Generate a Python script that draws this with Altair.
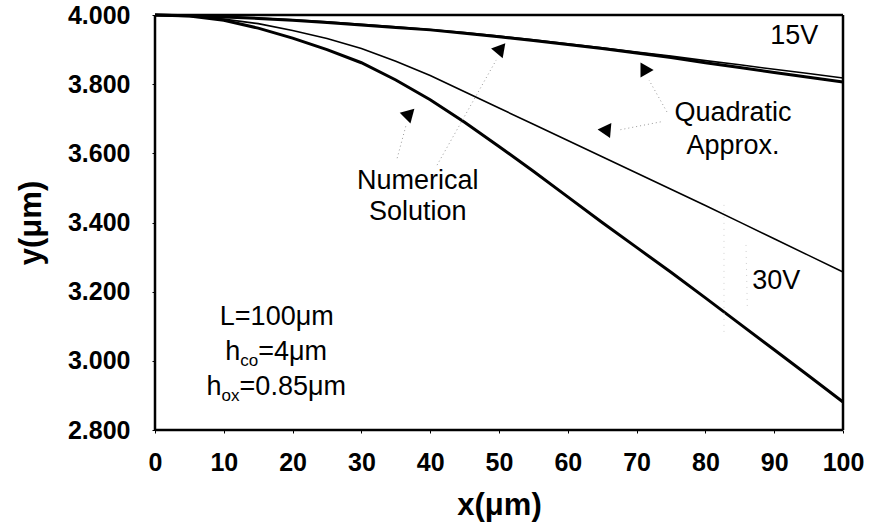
import altair as alt
import pandas as pd

# ---------------- data ----------------
x_um = list(range(0, 101, 5))

y15_numerical = [4.000, 3.998, 3.994, 3.990, 3.985, 3.978, 3.971, 3.964, 3.957, 3.947, 3.937,
                 3.926, 3.915, 3.903, 3.890, 3.877, 3.862, 3.848, 3.834, 3.820, 3.806]
y15_quadratic = [4.000, 3.998, 3.995, 3.991, 3.986, 3.980, 3.973, 3.966, 3.958, 3.949, 3.939,
                 3.928, 3.917, 3.905, 3.893, 3.881, 3.868, 3.856, 3.843, 3.831, 3.818]
y30_numerical = [4.000, 3.997, 3.985, 3.962, 3.933, 3.900, 3.862, 3.812, 3.755, 3.690, 3.620,
                 3.548, 3.474, 3.400, 3.328, 3.256, 3.182, 3.107, 3.032, 2.957, 2.881]
y30_quadratic = [4.000, 3.997, 3.988, 3.975, 3.955, 3.932, 3.903, 3.866, 3.825, 3.778, 3.731,
                 3.684, 3.637, 3.590, 3.543, 3.496, 3.449, 3.401, 3.353, 3.305, 3.257]

x_ticks = list(range(0, 101, 10))
y_ticks = [2.8, 3.0, 3.2, 3.4, 3.6, 3.8, 4.0]

label_text = ["15V", "Quadratic", "Approx.", "Numerical", "Solution", "30V", "L=100\u03bcm"]
label_x = [92.9, 84.0, 84.0, 38.2, 38.2, 90.3, 17.7]
label_y = [3.915, 3.693, 3.599, 3.497, 3.408, 3.207, 3.104]

tri_x = [36.8, 50.1, 71.2, 65.6]
tri_y = [3.711, 3.899, 3.841, 3.667]
tri_angle = [285, 280, 90, 275]

lead_x = [35.2, 41.0, 74.4, 73.5]
lead_y = [3.586, 3.566, 3.720, 3.691]
lead_x2 = [36.5, 49.6, 71.8, 67.3]
lead_y2 = [3.682, 3.870, 3.812, 3.667]

faint_x = [82.7, 85.9]
faint_y = [3.451, 3.335]
faint_x2 = [82.7, 86.1]
faint_y2 = [3.075, 3.147]

box_x = [0, 100]
box_y = [2.8, 4.0]

# ---------------- tables ----------------
rows = []
for v, ys in (("15V", y15_numerical), ("30V", y30_numerical)):
    for x, y in zip(x_um, ys):
        rows.append({"x": x, "y": y, "voltage": v})
num_df = pd.DataFrame(rows)
rows = []
for v, ys in (("15V", y15_quadratic), ("30V", y30_quadratic)):
    for x, y in zip(x_um, ys):
        rows.append({"x": x, "y": y, "voltage": v})
quad_df = pd.DataFrame(rows)

lab_df = pd.DataFrame({"x": label_x, "y": label_y, "t": label_text})
tri_df = pd.DataFrame({"x": tri_x, "y": tri_y, "a": tri_angle})
lead_df = pd.DataFrame({"x": lead_x, "y": lead_y, "x2": lead_x2, "y2": lead_y2})
faint_df = pd.DataFrame({"x": faint_x, "y": faint_y, "x2": faint_x2, "y2": faint_y2})
frame_df = pd.DataFrame({
    "x": [box_x[0], box_x[0], box_x[0], box_x[1]],
    "x2": [box_x[1], box_x[1], box_x[0], box_x[1]],
    "y": [box_y[1], box_y[0], box_y[0], box_y[0]],
    "y2": [box_y[1], box_y[0], box_y[1], box_y[1]],
})

FONT = "Liberation Sans"
W, H = 688, 415

xscale = alt.Scale(domain=[0, 100], nice=False, zero=False)
yscale = alt.Scale(domain=[2.8, 4.0], nice=False, zero=False)

xaxis = alt.Axis(values=x_ticks, title="x(\u03bcm)", grid=False, domain=False,
                 labelFont=FONT, labelFontSize=25, labelFontWeight="bold", labelColor="black",
                 labelFlush=False, labelPadding=17, tickSize=3, tickColor="black",
                 titleFont=FONT, titleFontSize=31, titleFontWeight="bold", titleColor="black",
                 titleY=84, titleBaseline="alphabetic")
yaxis = alt.Axis(values=y_ticks, format=".3f", title="y(\u03bcm)", grid=False, domain=False,
                 labelFont=FONT, labelFontSize=25, labelFontWeight="bold", labelColor="black",
                 labelFlush=False, labelPadding=22, tickSize=3, tickColor="black",
                 titleFont=FONT, titleFontSize=31, titleFontWeight="bold", titleColor="black",
                 titleX=-108, titleY=207.5, titleAngle=-90, titleAlign="center",
                 titleBaseline="bottom")

X = alt.X("x:Q", scale=xscale, axis=xaxis)
Y = alt.Y("y:Q", scale=yscale, axis=yaxis)

thick = alt.Chart(num_df).mark_line(color="black", strokeWidth=3).encode(
    x=X, y=Y, detail="voltage:N")
thin = alt.Chart(quad_df).mark_line(color="black", strokeWidth=1.6).encode(
    x="x:Q", y="y:Q", detail="voltage:N")

frame = alt.Chart(frame_df).mark_rule(color="black", strokeWidth=2.5, clip=False).encode(
    x="x:Q", x2="x2:Q", y="y:Q", y2="y2:Q")

leaders = alt.Chart(lead_df).mark_rule(color="#9a9a9a", strokeWidth=1, strokeDash=[1, 3]).encode(
    x="x:Q", y="y:Q", x2="x2:Q", y2="y2:Q")
faint = alt.Chart(faint_df).mark_rule(color="#d0d0d0", strokeWidth=1, strokeDash=[1, 5]).encode(
    x="x:Q", y="y:Q", x2="x2:Q", y2="y2:Q")

tris = alt.Chart(tri_df).mark_point(shape="triangle", filled=True, color="black",
                                    size=230, opacity=1).encode(
    x="x:Q", y="y:Q", angle=alt.Angle("a:Q", scale=None))

labels = alt.Chart(lab_df).mark_text(font=FONT, fontSize=27, color="black",
                                     align="center", baseline="alphabetic").encode(
    x="x:Q", y="y:Q", text="t:N")

sub_x = [10.2, 7.5]
sub_y = [3.002, 2.901]
hco_df = pd.DataFrame({"x": [sub_x[0]], "y": [sub_y[0]]})
hox_df = pd.DataFrame({"x": [sub_x[1]], "y": [sub_y[1]]})


def piece_on(df, text, dx, dy, size):
    return alt.Chart(df).mark_text(font=FONT, fontSize=size, color="black", align="left",
                                   baseline="alphabetic", dx=dx, dy=dy).encode(
        x="x:Q", y="y:Q", text=alt.value(text))


h_pieces = [
    piece_on(hco_df, "h", 0, 0, 27),
    piece_on(hco_df, "co", 15, 6, 17),
    piece_on(hco_df, "=4\u03bcm", 33, 0, 27),
    piece_on(hox_df, "h", 0, 0, 27),
    piece_on(hox_df, "ox", 15, 6, 17),
    piece_on(hox_df, "=0.85\u03bcm", 33, 0, 27),
]

chart = alt.layer(thick, thin, faint, leaders, tris, labels, *h_pieces, frame).properties(
    width=W, height=H,
    padding={"left": 155, "top": 15, "right": 29, "bottom": 93},
    autosize=alt.AutoSizeParams(type="none"),
    background="white",
).configure_view(stroke=None)

chart.save("out.html", embed_options={"renderer": "svg", "actions": False})
